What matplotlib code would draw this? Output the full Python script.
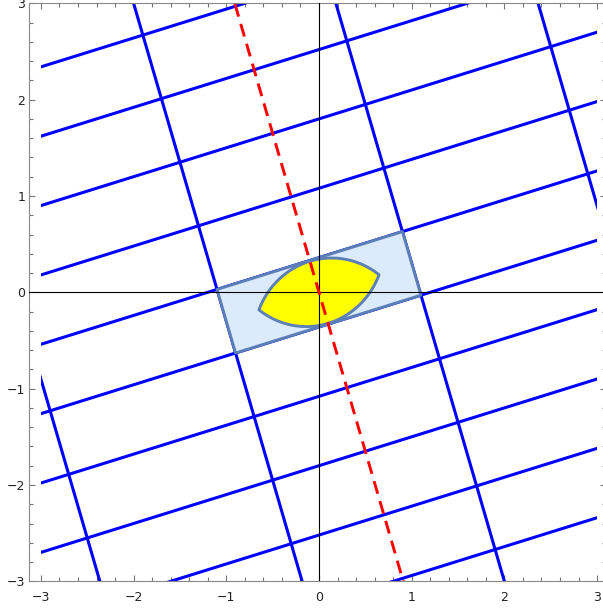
import numpy as np
import matplotlib
matplotlib.use("Agg")
import matplotlib.pyplot as plt
from matplotlib.patches import Polygon, Rectangle
from matplotlib.ticker import MultipleLocator

# linear map, columns = images of the s and t unit vectors
transform_matrix = np.array([[1.0, -0.1],
                             [0.3, 0.33]])
# grid lines s = const and t = const (odd values)
grid_values = [-9, -7, -5, -3, -1, 1, 3, 5, 7, 9]
dashed_s = 0          # red dashed line s = 0
square_half = 1       # image of [-1,1]^2
# yellow lens (two circular arcs), centred on the origin
lens_angle = 15.7
lens_half_length = 0.673
lens_half_width = 0.337
box_limit = 3
tick_values = [-3, -2, -1, 0, 1, 2, 3]

blue = "#0000ff"
edge_col = "#5b7fb6"
rect_fill = "#dcebfb"

def to_xy(s, t):
    st = np.vstack([np.atleast_1d(s), np.atleast_1d(t)]).astype(float)
    return transform_matrix @ st

fig = plt.figure(figsize=(6.03, 6.12), dpi=100)
ax = fig.add_axes([29.3 / 603, 30.7 / 612, 576.6 / 603, 578 / 612])
ax.set_xlim(-3.125, 3.095)
ax.set_ylim(-3, 3)

def box_clip():
    return Rectangle((-box_limit, -box_limit), 2 * box_limit, 2 * box_limit,
                     transform=ax.transData)

far = np.array([-30.0, 30.0])
for g in grid_values:
    # t = g, s varies
    xy = to_xy(far, [g, g])
    ln, = ax.plot(xy[0], xy[1], color=blue, lw=2.2, zorder=2, solid_capstyle="butt")
    ln.set_clip_path(box_clip())
    # s = g, t varies
    xy = to_xy([g, g], far)
    ln, = ax.plot(xy[0], xy[1], color=blue, lw=2.2, zorder=2, solid_capstyle="butt")
    ln.set_clip_path(box_clip())

# rectangle = image of the square
sq_s = np.array([-1, 1, 1, -1]) * square_half
sq_t = np.array([-1, -1, 1, 1]) * square_half
corners = to_xy(sq_s, sq_t).T
ax.add_patch(Polygon(corners, closed=True, facecolor=rect_fill, edgecolor=edge_col,
                     lw=2.1, joinstyle="round", zorder=3))

# lens from two circle arcs
a, h = lens_half_length, lens_half_width
R = (a * a + h * h) / (2 * h)
half_ang = np.arcsin(a / R)
th = np.radians(lens_angle)
u = np.array([np.cos(th), np.sin(th)])
n = np.array([-np.sin(th), np.cos(th)])
phi = np.linspace(-half_ang, half_ang, 120)
top = [(-(R - h) * n) + R * (np.sin(p) * u + np.cos(p) * n) for p in phi[::-1]]
bot = [((R - h) * n) + R * (np.sin(p) * u - np.cos(p) * n) for p in phi]
lens_pts = np.array(top + bot)
ax.add_patch(Polygon(lens_pts, closed=True, facecolor="#ffff00", edgecolor=edge_col,
                     lw=2.1, joinstyle="round", zorder=4))

# axes through the origin
ax.axhline(0, color="black", lw=0.8, zorder=5)
ax.axvline(0, color="black", lw=0.8, zorder=5)

# red dashed line
xy = to_xy([dashed_s, dashed_s], far)
ln, = ax.plot(xy[0], xy[1], color="#ff0000", lw=2.1, dashes=(4.5, 2.6), zorder=6)
ln.set_clip_path(box_clip())

# frame and ticks
ax.set_xticks(tick_values)
ax.set_yticks(tick_values)
ax.xaxis.set_minor_locator(MultipleLocator(0.2))
ax.yaxis.set_minor_locator(MultipleLocator(0.2))
ax.tick_params(which="both", direction="in", top=True, right=True,
               color="#777777", width=0.8, labelsize=9, labelcolor="#222222")
ax.tick_params(which="major", length=4.5)
ax.tick_params(which="minor", length=2.6)
ax.tick_params(axis="x", pad=7)
ax.tick_params(axis="y", pad=3)
for sp in ax.spines.values():
    sp.set_color("#888888")
    sp.set_linewidth(0.8)

fig.savefig("out.png", dpi=100)
